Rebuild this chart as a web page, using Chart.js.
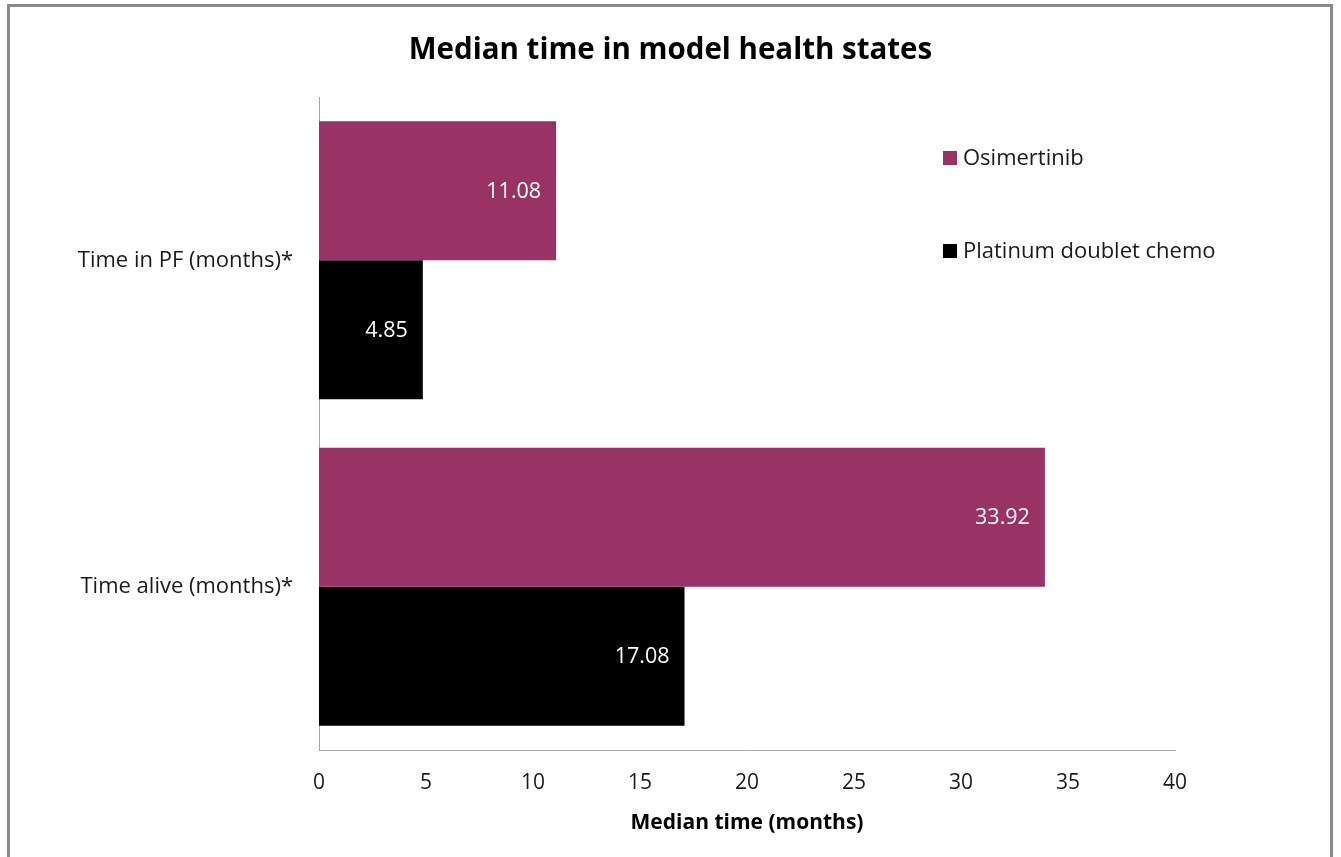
<!DOCTYPE html>
<html>
<head>
<meta charset="utf-8">
<script src="https://cdn.jsdelivr.net/npm/chart.js@4"></script>
<style>
  html, body { margin: 0; padding: 0; width: 1341px; height: 857px; overflow: hidden; background: #fff; }
  #frame { position: absolute; left: 7px; top: 4px; width: 1326px; height: 900px; border: 3px solid #8a8a8a; box-sizing: border-box; }
  #wrap { position: absolute; left: 0; top: 0; width: 1341px; height: 857px; }
</style>
</head>
<body>
<div id="frame"></div>
<div id="wrap"><canvas id="c" width="1341" height="857"></canvas></div>
<script>
// Median time spent in each health state, by treatment arm
const categories = ['Time in PF (months)*', 'Time alive (months)*'];
const seriesNames = ['Osimertinib', 'Platinum doublet chemo'];
const osimertinib = [11.08, 33.92];
const platinumChemo = [4.85, 17.08];
const seriesColors = ['#993366', '#000000'];
const xTicks = [0, 5, 10, 15, 20, 25, 30, 35, 40];

const FONT = '"Open Sans", Lato, sans-serif';
const TEXT_SIZE = 22;

// Value labels inside the end of each bar
const barLabels = {
  id: 'barLabels',
  afterDatasetsDraw(chart) {
    const ctx = chart.ctx;
    ctx.save();
    ctx.font = '21.5px ' + FONT;
    ctx.fillStyle = '#ffffff';
    ctx.textAlign = 'right';
    ctx.textBaseline = 'middle';
    chart.data.datasets.forEach((ds, i) => {
      chart.getDatasetMeta(i).data.forEach((bar, j) => {
        ctx.fillText(ds.data[j].toFixed(2), bar.x - 15, bar.y + 1);
      });
    });
    ctx.restore();
  }
};

// Legend placed inside the upper right of the plot
const insideLegend = {
  id: 'insideLegend',
  afterDraw(chart) {
    const ctx = chart.ctx;
    const area = chart.chartArea;
    const x0 = area.left + 624;
    const rows = [area.top + 61, area.top + 154];
    ctx.save();
    ctx.font = TEXT_SIZE + 'px ' + FONT;
    ctx.textAlign = 'left';
    ctx.textBaseline = 'middle';
    chart.data.datasets.forEach((ds, i) => {
      const y = rows[i];
      ctx.fillStyle = ds.backgroundColor;
      ctx.fillRect(x0, y - 7, 14, 14);
      ctx.fillStyle = '#1a1a1a';
      ctx.fillText(ds.label, x0 + 20, y + 1);
    });
    ctx.restore();
  }
};

new Chart(document.getElementById('c'), {
  type: 'bar',
  data: {
    labels: categories,
    datasets: [
      { label: seriesNames[0], data: osimertinib, backgroundColor: seriesColors[0] },
      { label: seriesNames[1], data: platinumChemo, backgroundColor: seriesColors[1] }
    ]
  },
  options: {
    indexAxis: 'y',
    responsive: false,
    animation: false,
    layout: { padding: 0 },
    datasets: { bar: { categoryPercentage: 0.851, barPercentage: 1.0 } },
    plugins: {
      legend: { display: false },
      tooltip: { enabled: false },
      title: {
        display: true,
        text: 'Median time in model health states',
        color: '#000',
        font: { family: FONT, size: 29.5, weight: 'bold', lineHeight: 1.2 },
        padding: { top: 33, bottom: 28.6 }
      }
    },
    scales: {
      x: {
        type: 'linear',
        min: 0,
        max: 40,
        afterBuildTicks(scale) { scale.ticks = xTicks.map(v => ({ value: v })); },
        afterFit(scale) { scale.height = 107; },
        grid: { display: false, drawTicks: false },
        border: { display: true, color: '#a6a6a6', width: 1 },
        ticks: { color: '#1a1a1a', font: { family: FONT, size: 21 }, padding: 20, maxRotation: 0 },
        title: {
          display: true,
          text: 'Median time (months)',
          color: '#000',
          font: { family: FONT, size: 21, weight: 'bold', lineHeight: 1.2 },
          padding: { top: 0, bottom: 21 }
        }
      },
      y: {
        type: 'category',
        afterFit(scale) { scale.width = 319; },
        grid: { display: false, drawTicks: false },
        border: { display: true, color: '#a6a6a6', width: 1 },
        ticks: { color: '#1a1a1a', font: { family: FONT, size: TEXT_SIZE }, padding: 26 }
      },
      // empty margin on the right of the plot, where the legend text overhangs
      rightMargin: {
        type: 'linear',
        position: 'right',
        afterFit(scale) { scale.width = 166; },
        grid: { display: false, drawTicks: false },
        border: { display: false },
        ticks: { display: false }
      }
    }
  },
  plugins: [barLabels, insideLegend]
});
</script>
</body>
</html>
